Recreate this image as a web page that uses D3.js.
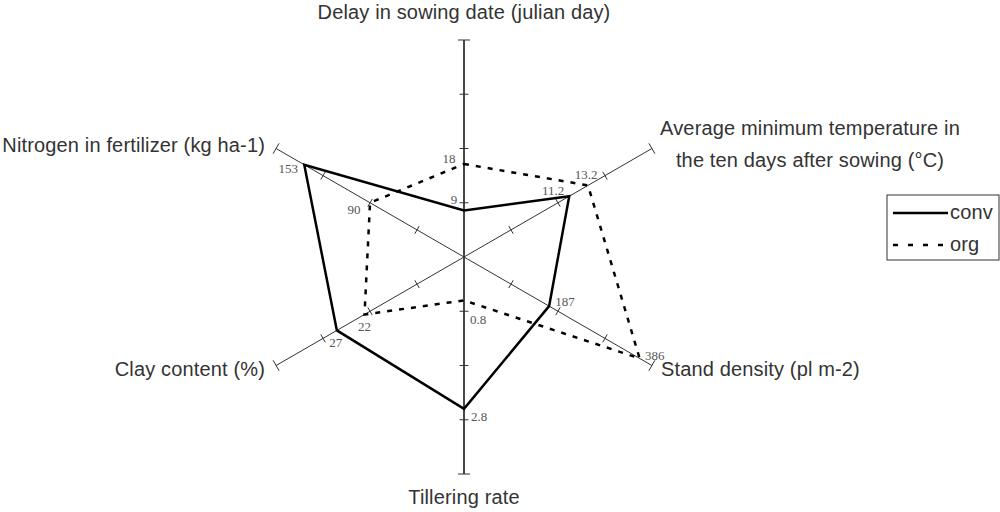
<!DOCTYPE html>
<html lang="en">
<head>
  <meta charset="UTF-8">
  <title>Radar chart conv / org</title>
  <style>
    body { margin: 0; background: #fff; }
    svg { display: block; }
    .axis-label { font-family: "Liberation Sans", Arial, sans-serif; font-size: 20px; letter-spacing: 0.15px; fill: #333; }
    .value-label { font-family: "Liberation Serif", "Times New Roman", serif; font-size: 13px; fill: #555; }
  </style>
</head>
<body>
  <svg width="1000" height="512"></svg>
  <script src="https://d3js.org/d3.v7.min.js"></script>
  <script>
    // data
    const axisNames = [
      ["Delay in sowing date (julian day)"],
      ["Average minimum temperature in", "the ten days after sowing (°C)"],
      ["Stand density (pl m-2)"],
      ["Tillering rate"],
      ["Clay content (%)"],
      ["Nitrogen in fertilizer (kg ha-1)"]
    ];
    const axisDomains = [[0, 42], [0, 20], [0, 413], [0, 4], [4, 38], [0, 180]];
    const convValues = [9, 11.2, 187, 2.8, 27, 153];
    const orgValues = [18, 13.2, 386, 0.8, 22, 90];
    const seriesNames = ["conv", "org"];

    // layout
    const cx = 464, cy = 257, R = 217;
    const angles = [90, 30, -30, -90, 210, 150].map(a => a * Math.PI / 180);
    const scales = axisDomains.map(d => d3.scaleLinear().domain(d).range([0, R]));

    const svg = d3.select("svg");
    const pt = (i, r) => [cx + r * Math.cos(angles[i]), cy - r * Math.sin(angles[i])];

    // axes
    const axesG = svg.append("g");
    angles.forEach((a, i) => {
      const end = pt(i, R);
      axesG.append("line")
        .attr("x1", cx).attr("y1", cy)
        .attr("x2", end[0]).attr("y2", end[1])
        .attr("stroke", "#333")
        .attr("stroke-width", i === 0 || i === 3 ? 1.8 : 1);
      // ticks perpendicular to axis
      const px = Math.sin(a), py = Math.cos(a);
      [0.25, 0.5, 0.75, 1].forEach(f => {
        const p = pt(i, R * f);
        const h = f === 1 ? 6 : 4.5;
        axesG.append("line")
          .attr("x1", p[0] - px * h).attr("y1", p[1] - py * h)
          .attr("x2", p[0] + px * h).attr("y2", p[1] + py * h)
          .attr("stroke", "#333")
          .attr("stroke-width", 1);
      });
    });

    // series polygons
    const line = d3.line().curve(d3.curveLinearClosed);
    const convPts = convValues.map((v, i) => pt(i, scales[i](v)));
    const orgPts = orgValues.map((v, i) => pt(i, scales[i](v)));

    svg.append("path")
      .attr("d", line(orgPts))
      .attr("fill", "none")
      .attr("stroke", "#000")
      .attr("stroke-width", 2.5)
      .attr("stroke-dasharray", "5,7");

    svg.append("path")
      .attr("d", line(convPts))
      .attr("fill", "none")
      .attr("stroke", "#000")
      .attr("stroke-width", 2.5)
      .attr("stroke-linejoin", "miter");

    // value labels (offsets from their point)
    const convOffsets = [[-10, -11], [-16, -6], [16, -5], [15, 8], [-1, 12], [-16, 4]];
    const orgOffsets = [[-15, -6], [-2, -11], [15, -3], [14, 19], [0, 12], [-16, 7]];
    const labG = svg.append("g");
    function addValueLabels(values, pts, offs) {
      values.forEach((v, i) => {
        labG.append("text")
          .attr("class", "value-label")
          .attr("x", pts[i][0] + offs[i][0])
          .attr("y", pts[i][1] + offs[i][1])
          .attr("text-anchor", "middle")
          .attr("dominant-baseline", "central")
          .text(v);
      });
    }
    addValueLabels(convValues, convPts, convOffsets);
    addValueLabels(orgValues, orgPts, orgOffsets);

    // axis titles
    const titlePos = [
      { x: 464, y: 19, anchor: "middle" },
      { x: 810, y: 135, anchor: "middle" },
      { x: 661, y: 376, anchor: "start" },
      { x: 464, y: 504, anchor: "middle" },
      { x: 265, y: 376, anchor: "end" },
      { x: 265, y: 152, anchor: "end" }
    ];
    axisNames.forEach((lines, i) => {
      const t = svg.append("text")
        .attr("class", "axis-label")
        .attr("x", titlePos[i].x)
        .attr("y", titlePos[i].y)
        .attr("text-anchor", titlePos[i].anchor);
      lines.forEach((s, j) => {
        t.append("tspan")
          .attr("x", titlePos[i].x)
          .attr("dy", j === 0 ? 0 : 32)
          .text(s);
      });
    });

    // legend
    const leg = svg.append("g").attr("transform", "translate(887,195)");
    leg.append("rect")
      .attr("width", 112).attr("height", 65)
      .attr("fill", "#fff")
      .attr("stroke", "#333")
      .attr("stroke-width", 1);
    seriesNames.forEach((name, i) => {
      const y = 18 + i * 32;
      leg.append("line")
        .attr("x1", 6).attr("x2", 61)
        .attr("y1", y).attr("y2", y)
        .attr("stroke", "#000")
        .attr("stroke-width", 2.5)
        .attr("stroke-dasharray", i === 1 ? "5,10" : null);
      leg.append("text")
        .attr("class", "axis-label")
        .attr("x", 63)
        .attr("y", y + 6)
        .text(name);
    });
  </script>
</body>
</html>
